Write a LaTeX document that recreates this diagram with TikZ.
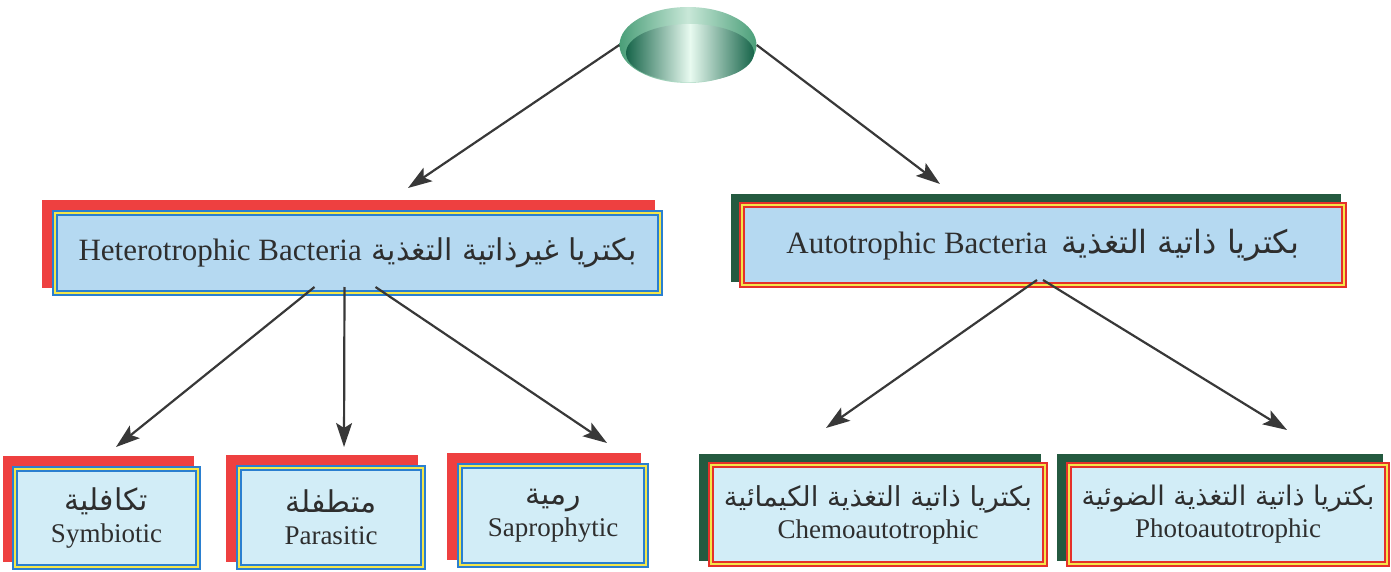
\documentclass[tikz,border=0pt]{standalone}
\usepackage{fontspec}
\setmainfont{Liberation Serif}
\newfontfamily\arabicfont[Script=Arabic]{DejaVu Sans}
\TeXXeTstate=1
\usetikzlibrary{arrows.meta,shapes.geometric,backgrounds,calc}
\definecolor{shred}{HTML}{EE4040}
\definecolor{shgreen}{HTML}{245A40}
\definecolor{bblue}{HTML}{2A7FD0}
\definecolor{byel}{HTML}{F4E64A}
\definecolor{rred}{HTML}{E5302A}
\definecolor{fillA}{HTML}{B5D9F1}
\definecolor{fillB}{HTML}{D2EDF7}
\definecolor{txt}{HTML}{2E2E2E}
\definecolor{arrc}{HTML}{383838}
\definecolor{gdark}{HTML}{17654A}
\definecolor{gmid}{HTML}{4A9E78}
\definecolor{glight}{HTML}{E8FAF0}
\newcommand\shbox[4]{\fill[#2] ([shift={({#3-3},{#4-3})}]#1.north west) rectangle ([shift={({#3+3},{#4+3})}]#1.south east);}
\newcommand\ar[1]{{\arabicfont\beginR #1\endR}}
\begin{document}
\begin{tikzpicture}[x=1pt,y=-1pt,
  boxbase/.style={rectangle, inner sep=0pt, line width=2pt, double distance=2pt, text=txt, align=center},
  bluebox/.style={boxbase, draw=bblue, double=byel},
  redbox/.style={boxbase, draw=rred, double=byel},
  bigtxt/.style={font=\fontsize{31}{36}\selectfont},
  smtxt/.style={font=\fontsize{27}{32}\selectfont},
  arr/.style={draw=arrc, line width=2.2pt, -{Stealth[length=24pt,width=16pt,inset=5pt]}}]
\useasboundingbox (0,0) rectangle (1391,572);

% top disk
\node[ellipse, inner sep=0pt, minimum width=137pt, minimum height=76pt,
  left color=gmid, right color=gmid, middle color=glight!80!gmid] (top) at (688,45) {};
\path[left color=gdark, right color=gdark, middle color=glight] ([shift={(2,8)}]top.center) ellipse [x radius=64pt, y radius=29pt];

% level 1
\node[bluebox, fill=fillA, bigtxt, minimum width=605pt, minimum height=80pt] (het) at (357.5,253)
  {Heterotrophic Bacteria\hspace{10pt}{\fontsize{30}{34}\selectfont\ar{بكتريا غيرذاتية التغذية}}};
\node[redbox, fill=fillA, bigtxt, minimum width=602pt, minimum height=80pt] (aut) at (1043,245)
  {Autotrophic Bacteria\hspace{14pt}{\fontsize{32}{36}\selectfont\ar{بكتريا ذاتية التغذية}}};

% level 2
\node[bluebox, fill=fillB, smtxt, minimum width=183pt, minimum height=98pt] (sym) at (106.5,518)
  {{\fontsize{30}{34}\selectfont\ar{تكافلية}}\\[0pt]Symbiotic};
\node[bluebox, fill=fillB, smtxt, minimum width=184pt, minimum height=99pt] (par) at (331,517.5)
  {{\fontsize{30}{34}\selectfont\ar{متطفلة}}\\[0pt]Parasitic};
\node[bluebox, fill=fillB, smtxt, minimum width=186pt, minimum height=99pt] (sap) at (553,515.5)
  {{\fontsize{30}{34}\selectfont\ar{رمية}}\\[0pt]Saprophytic};
\node[redbox, fill=fillB, smtxt, minimum width=334pt, minimum height=99pt] (che) at (878,514.5)
  {{\fontsize{27.5}{33}\selectfont\ar{بكتريا ذاتية التغذية الكيمائية}}\\[0pt]Chemoautotrophic};
\node[redbox, fill=fillB, smtxt, minimum width=318pt, minimum height=99pt] (pho) at (1228,514.5)
  {{\fontsize{27}{32}\selectfont\ar{بكتريا ذاتية التغذية الضوئية}}\\[0pt]Photoautotrophic};

% shadows
\begin{scope}[on background layer]
\shbox{het}{shred}{-9}{-9}
\shbox{aut}{shgreen}{-7}{-7}
\shbox{sym}{shred}{-8}{-9}
\shbox{par}{shred}{-9}{-9}
\shbox{sap}{shred}{-9}{-9}
\shbox{che}{shgreen}{-8}{-7}
\shbox{pho}{shgreen}{-8}{-7}
\end{scope}

% connector ends
\coordinate (t1) at (408,188);
\coordinate (t2) at (940,184);
\coordinate (h1) at ($(het.south)+(-43,-7)$);
\coordinate (h2) at ($(het.south)+(-13,-7)$);
\coordinate (h3) at ($(het.south)+(18,-7)$);
\coordinate (u1) at ($(aut.south)+(-6,-6)$);
\coordinate (u2) at ($(aut.south)+(0,-6)$);
\coordinate (e1) at (116,447);
\coordinate (e2) at (344,447);
\coordinate (e3) at (607,443);
\coordinate (e4) at (826,428);
\coordinate (e5) at (1287,430);

\draw[arr] (top.west) -- (t1);
\draw[arr] (top.east) -- (t2);
\draw[arr] (h1) -- (e1);
\draw[arr] (h2) -- (e2);
\draw[arr] (h3) -- (e3);
\draw[arr] (u1) -- (e4);
\draw[arr] (u2) -- (e5);
\end{tikzpicture}
\end{document}
